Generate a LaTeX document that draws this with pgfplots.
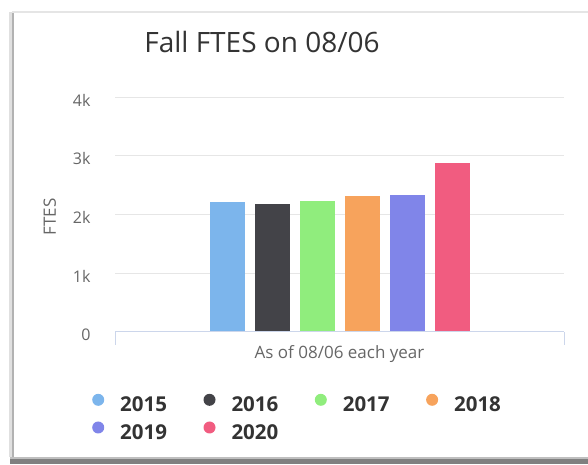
\documentclass[border=0pt]{standalone}
\usepackage{pgfplots}
\pgfplotsset{compat=1.18}
\usepackage{fontspec}
\setmainfont{Open Sans}
\definecolor{c1}{HTML}{7CB5EC}
\definecolor{c2}{HTML}{434348}
\definecolor{c3}{HTML}{90ED7D}
\definecolor{c4}{HTML}{F7A35C}
\definecolor{c5}{HTML}{8085E9}
\definecolor{c6}{HTML}{F15C80}
\definecolor{gridc}{HTML}{E6E6E6}
\definecolor{axisc}{HTML}{CCD6EB}
\definecolor{lab}{HTML}{666666}
\definecolor{ttl}{HTML}{333333}
\begin{document}
\begin{tikzpicture}[x=1pt,y=1pt]
\path[use as bounding box] (0,0) rectangle (588,464);
% card frame
\fill[black!50] (10,0) rectangle (588,5);
\fill[black!25] (10,5) rectangle (588,7);
\fill[black!12] (9,7) rectangle (12,452);
\fill[black!30] (12,7) rectangle (14,452);
\fill[black!10] (12,451) rectangle (588,453);
\node[anchor=base, text=ttl, font=\fontsize{28}{28}\selectfont] at (262,411) {Fall FTES on 08/06};
\begin{axis}[
  at={(115pt,132.3pt)}, anchor=south west,
  scale only axis, width=449pt, height=234.5pt,
  xmin=-1, xmax=1, ymin=0, ymax=4000,
  ybar=10pt, bar width=35pt,
  ytick={0,1000,2000,3000,4000},
  yticklabels={0,1k,2k,3k,4k},
  ymajorgrids, grid style={draw=gridc, line width=1pt},
  xtick={-1,1}, xticklabels={},
  tick align=outside, xtick pos=bottom,
  major tick length=13pt,
  xtick style={draw=axisc, line width=1pt},
  ytick style={draw=none},
  axis line style={draw=none},
  ticklabel style={text=lab, font=\fontsize{16}{16}\selectfont},
  yticklabel style={xshift=-8pt, yshift=-3pt},
  xlabel={As of 08/06 each year},
  xlabel style={at={(axis description cs:0.5,-0.097)}, anchor=center, text=lab, font=\fontsize{17}{17}\selectfont},
  ylabel={FTES},
  ylabel style={at={(axis description cs:-0.145,0.489)}, anchor=center, text=lab, font=\fontsize{17}{17}\selectfont},
  legend columns=4,
  legend image code/.code={\fill[#1] (6pt,5.5pt) circle (6pt);},
  legend style={draw=none, fill=none, inner sep=0pt,
    at={(axis description cs:-0.0512,-0.264)}, anchor=north west,
    font=\bfseries\fontsize{20.5}{20.5}\selectfont, text=ttl,
    row sep=6pt,
    /tikz/every odd column/.append style={column sep=14pt},
    /tikz/every even column/.append style={column sep=34.5pt}},
]
\addplot[fill=c1, draw=none] coordinates {(0,2205)};
\addplot[fill=c2, draw=none] coordinates {(0,2176)};
\addplot[fill=c3, draw=none] coordinates {(0,2235)};
\addplot[fill=c4, draw=none] coordinates {(0,2315)};
\addplot[fill=c5, draw=none] coordinates {(0,2340)};
\addplot[fill=c6, draw=none] coordinates {(0,2880)};
\legend{2015,2016,2017,2018,2019,2020}
\draw[axisc, line width=1pt] (rel axis cs:0,0) -- (rel axis cs:1,0);
\end{axis}
\end{tikzpicture}
\end{document}
